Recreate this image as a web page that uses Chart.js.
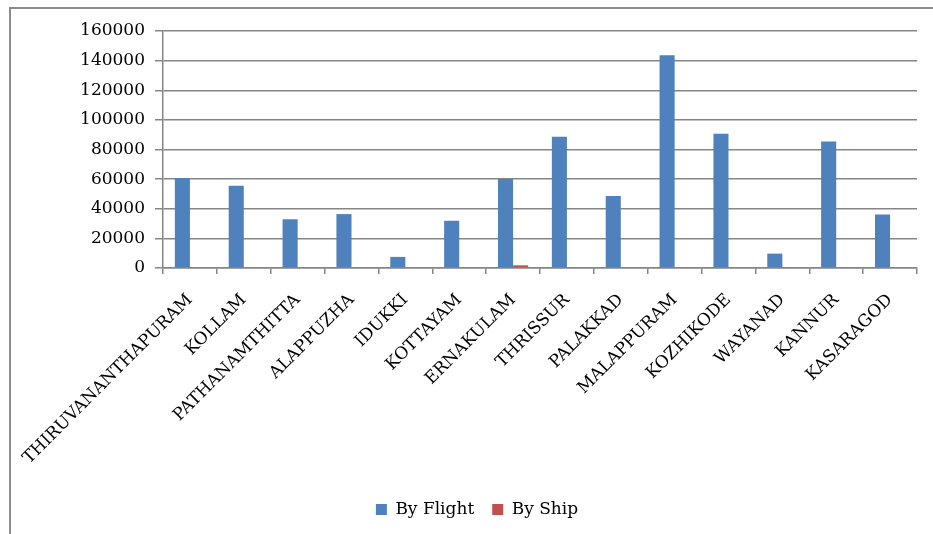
<!DOCTYPE html>
<html>
<head>
<meta charset="utf-8">
<script src="https://cdn.jsdelivr.net/npm/chart.js@4.4.1/dist/chart.umd.min.js"></script>
<style>
  html, body { margin: 0; padding: 0; background: #fff; }
  #wrap { width: 933px; height: 534px; position: relative; }
</style>
</head>
<body>
<div id="wrap"><canvas id="myChart" width="933" height="534"></canvas></div>
<script>
const districts = ["THIRUVANANTHAPURAM", "KOLLAM", "PATHANAMTHITTA", "ALAPPUZHA", "IDUKKI", "KOTTAYAM",
    "ERNAKULAM", "THRISSUR", "PALAKKAD", "MALAPPURAM", "KOZHIKODE", "WAYANAD", "KANNUR", "KASARAGOD"];
const byFlight = [60700, 55600, 32900, 36400, 7500, 31900, 60100, 88600, 48600, 143700, 90600, 9700, 85400, 36100];
const byShip = [0, 0, 0, 0, 0, 0, 1800, 0, 0, 0, 0, 0, 0, 0];
const yTicks = [0, 20000, 40000, 60000, 80000, 100000, 120000, 140000, 160000];

const serif = "'DejaVu Serif', serif";

// grey frame round the chart (only top and left edges show in the picture)
const framePlugin = {
    id: "frame",
    beforeDraw(chart) {
        const ctx = chart.ctx;
        ctx.save();
        ctx.strokeStyle = "#8c8c8c";
        ctx.lineWidth = 2;
        ctx.beginPath();
        ctx.moveTo(10, 534);
        ctx.lineTo(10, 8);
        ctx.lineTo(933, 8);
        ctx.stroke();
        ctx.restore();
    }
};

const data = {
    labels: districts,
    datasets: [
        { label: "By Flight", data: byFlight, backgroundColor: "#4F81BD" },
        { label: "By Ship", data: byShip, backgroundColor: "#C0504D" }
    ]
};

const config = {
    type: "bar",
    data,
    plugins: [framePlugin],
    options: {
        responsive: false,
        animation: false,
        layout: { padding: { top: 31, right: 16, bottom: 6, left: 37 } },
        datasets: { bar: { categoryPercentage: 0.56, barPercentage: 1.0 } },
        plugins: {
            tooltip: { enabled: false },
            legend: {
                position: "bottom",
                labels: {
                    font: { family: serif, size: 17 },
                    color: "#000",
                    boxWidth: 11,
                    boxHeight: 11,
                    padding: 18
                }
            }
        },
        scales: {
            x: {
                grid: { drawOnChartArea: false, color: "#868686", tickLength: 6, lineWidth: 1.5 },
                border: { color: "#868686", width: 1.5 },
                ticks: {
                    font: { family: serif, size: 17 },
                    color: "#000",
                    minRotation: 45,
                    maxRotation: 45,
                    autoSkip: false,
                    padding: 16
                },
                afterFit(scale) { scale.height = 215; }
            },
            y: {
                min: 0,
                max: 160000,
                afterBuildTicks(scale) { scale.ticks = yTicks.map(v => ({ value: v })); },
                grid: { color: "#868686", lineWidth: 1.5, tickLength: 8 },
                border: { color: "#868686", width: 1.5 },
                ticks: {
                    font: { family: serif, size: 17 },
                    color: "#000",
                    padding: 10,
                    callback: v => String(v)
                },
                afterFit(scale) { scale.width = 126; }
            }
        }
    }
};

new Chart(document.getElementById("myChart"), config);
</script>
</body>
</html>
